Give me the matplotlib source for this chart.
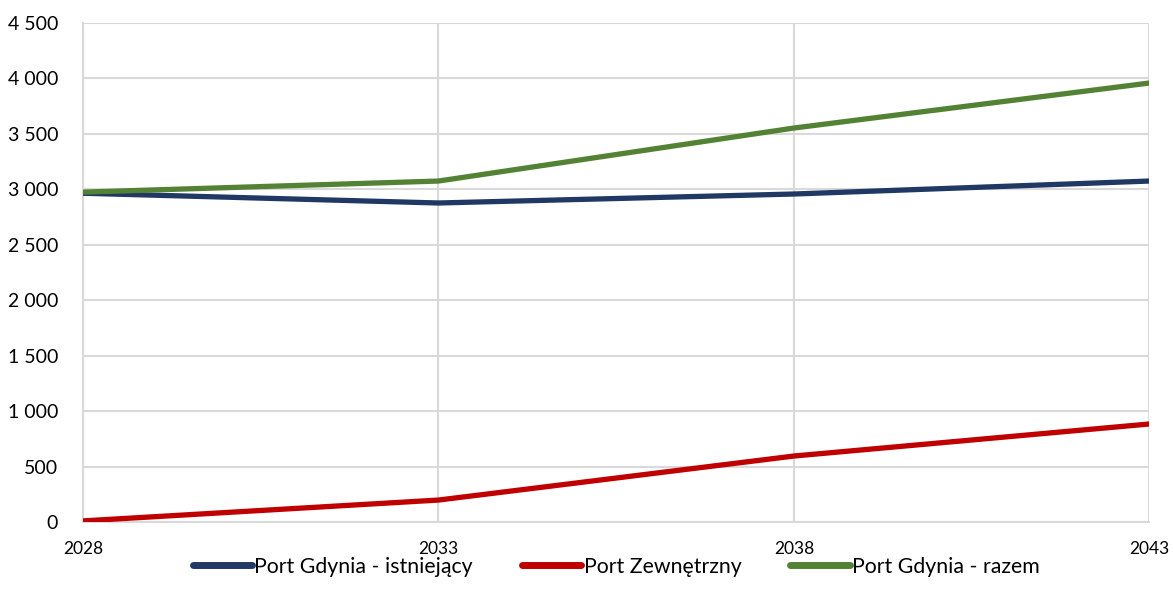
import matplotlib
matplotlib.use("Agg")
import matplotlib.pyplot as plt
from matplotlib.ticker import FuncFormatter

plt.rcParams['font.family'] = ['Lato', 'DejaVu Sans']

years = [2028, 2033, 2038, 2043]
istniejacy = [2965, 2877, 2958, 3075]
zewnetrzny = [10, 198, 595, 884]
razem = [2975, 3075, 3553, 3959]

series = [
    ("Port Gdynia - istniejący", istniejacy, "#1F3864"),
    ("Port Zewnętrzny", zewnetrzny, "#C00000"),
    ("Port Gdynia - razem", razem, "#548235"),
]

fig = plt.figure(figsize=(11.73, 6.06), dpi=100)
ax = fig.add_axes([0.0708, 0.1386, 0.909, 0.8234])

for label, vals, color in series:
    ax.plot(years, vals, color=color, linewidth=3.8, label=label,
            solid_capstyle='butt', zorder=3)

ax.set_xlim(2028, 2043)
ax.set_ylim(0, 4500)
ax.set_xticks(years)
ax.set_yticks(range(0, 4501, 500))
ax.yaxis.set_major_formatter(FuncFormatter(lambda v, p: f"{int(v):,}".replace(",", " ")))

ax.grid(True, color="#d9d9d9", linewidth=1.5, zorder=0)
for s in ["top", "right"]:
    ax.spines[s].set_visible(False)
for s in ["left", "bottom"]:
    ax.spines[s].set_color("#d9d9d9")
    ax.spines[s].set_linewidth(1.5)

ax.tick_params(axis='both', length=0)
ax.tick_params(axis='y', labelsize=14, pad=18, labelcolor="#000000")
ax.tick_params(axis='x', labelsize=12.5, pad=14, labelcolor="#000000")

leg = ax.legend(loc='center', bbox_to_anchor=(0.5, -0.09), ncol=3,
                frameon=False, fontsize=15.3, handlelength=2.8,
                handletextpad=0.1, columnspacing=2.3)
for line in leg.get_lines():
    line.set_linewidth(5)
    line.set_solid_capstyle('round')

fig.savefig("out.png", dpi=100)
